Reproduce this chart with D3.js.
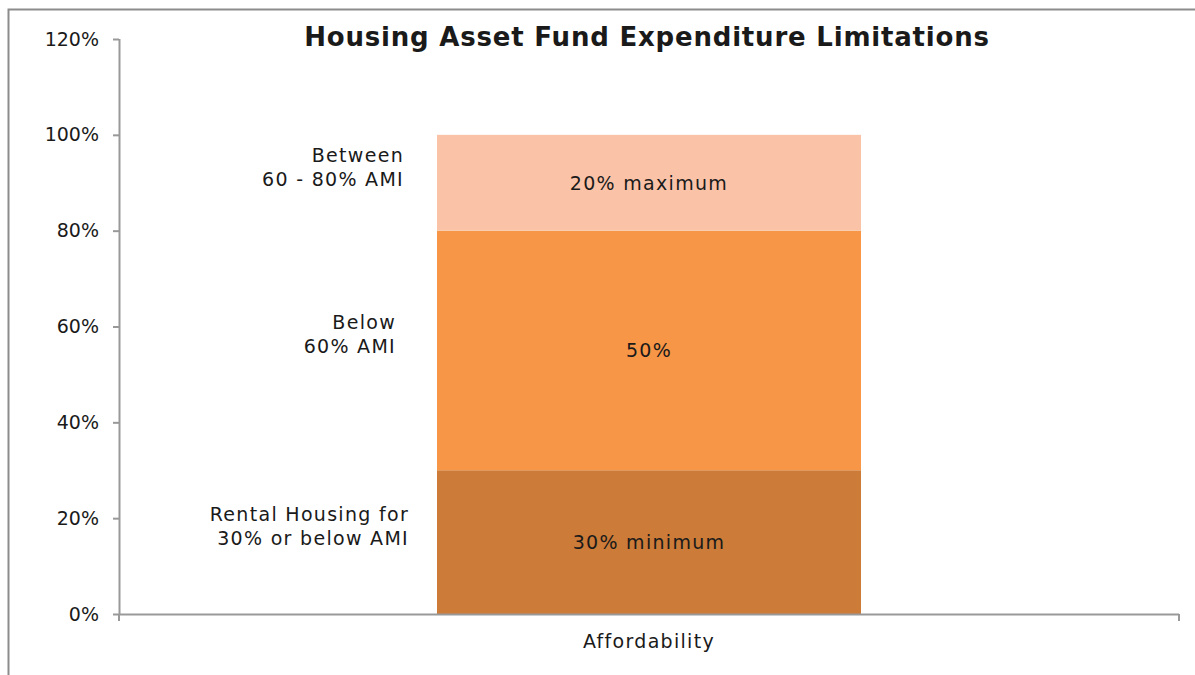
<!DOCTYPE html>
<html>
<head>
<meta charset="utf-8">
<script src="https://cdn.jsdelivr.net/npm/d3@7"></script>
<style>
  body { margin: 0; background: white; }
  text { font-family: "DejaVu Sans", sans-serif; fill: #1a1a1a; }
  .lbl { font-size: 19px; letter-spacing: 1.3px; }
</style>
</head>
<body>
<div id="chart"></div>
<script>
// data
const categories = ["Affordability"];
const segmentNames = ["Rental Housing for 30% or below AMI", "Below 60% AMI", "Between 60 - 80% AMI"];
const segmentValues = [30, 50, 20];
const segmentLabels = ["30% minimum", "50%", "20% maximum"];
const sideLabels = [["Rental Housing for", "30% or below AMI"], ["Below", "60% AMI"], ["Between", "60 - 80% AMI"]];
const yTicks = [0, 20, 40, 60, 80, 100, 120];
const colors = ["#CC7B38", "#F79646", "#FAC3A7"];

const wSvg = 1195;
const hSvg = 675;
const plotLeft = 119, plotRight = 1179, plotTop = 39, plotBottom = 614;

let svg = d3.select("#chart")
    .append("svg")
    .attr("width", wSvg)
    .attr("height", hSvg);

// outer chart frame (only left and top edges are in view)
svg.append("path")
    .attr("d", `M8.5,${hSvg} V9.5 H${wSvg}`)
    .attr("fill", "none")
    .attr("stroke", "#8c8c8c")
    .attr("stroke-width", 2);

let yScale = d3.scaleLinear([0, 120], [plotBottom, plotTop]);
let xScale = d3.scaleBand(categories, [plotLeft, plotRight]).paddingInner(0.6).paddingOuter(0.3);

// stack the segments
let stackData = [];
let acc = 0;
segmentValues.forEach((v, i) => {
    stackData.push({ name: segmentNames[i], y0: acc, y1: acc + v, label: segmentLabels[i], side: sideLabels[i], color: colors[i] });
    acc += v;
});

let bandX = xScale(categories[0]);
let bandW = xScale.bandwidth();

svg.append("g")
    .selectAll("rect")
    .data(stackData)
    .enter()
    .append("rect")
    .attr("x", bandX)
    .attr("width", bandW)
    .attr("y", d => yScale(d.y1))
    .attr("height", d => yScale(d.y0) - yScale(d.y1))
    .attr("fill", d => d.color);

// y axis
let yAxis = d3.axisLeft(yScale)
    .tickValues(yTicks)
    .tickFormat(d => d + "%")
    .tickSize(6)
    .tickPadding(14);
let gy = svg.append("g")
    .attr("transform", `translate(${plotLeft}, 0)`)
    .call(yAxis);
gy.selectAll("text").style("font-size", "19px").attr("fill", "#1a1a1a");
gy.select(".domain").attr("d", `M0.5,${plotTop} V${plotBottom}`);

// x axis with ticks at category edges
let gx = svg.append("g")
    .attr("transform", `translate(0, ${plotBottom})`);
gx.append("path")
    .attr("d", `M${plotLeft},0.5 H${plotRight}`)
    .attr("stroke", "#999")
    .attr("stroke-width", 2);
gx.selectAll("line")
    .data([plotLeft, plotRight])
    .enter()
    .append("line")
    .attr("x1", d => d).attr("x2", d => d)
    .attr("y1", 0).attr("y2", 7)
    .attr("stroke", "#999")
    .attr("stroke-width", 2);
gx.append("text")
    .attr("class", "lbl")
    .attr("x", bandX + bandW / 2)
    .attr("y", 34)
    .attr("text-anchor", "middle")
    .text(categories[0]);

svg.selectAll(".tick line").attr("stroke", "#999").attr("stroke-width", 2);
svg.selectAll(".domain").attr("stroke", "#999").attr("stroke-width", 2);

// labels inside segments
svg.append("g")
    .selectAll("text")
    .data(stackData)
    .enter()
    .append("text")
    .attr("class", "lbl")
    .attr("x", bandX + bandW / 2)
    .attr("y", d => yScale((d.y0 + d.y1) / 2) + 7)
    .attr("text-anchor", "middle")
    .text(d => d.label);

// side labels, right aligned next to bar
let sideRight = [409, 396, 404];
let side = svg.append("g")
    .selectAll("text")
    .data(stackData)
    .enter()
    .append("text")
    .attr("class", "lbl")
    .attr("text-anchor", "end")
    .attr("y", d => yScale((d.y0 + d.y1) / 2) - 21);
side.selectAll("tspan")
    .data((d, i) => d.side.map(s => ({ s: s, x: sideRight[i] })))
    .enter()
    .append("tspan")
    .attr("x", d => d.x)
    .attr("dy", (d, i) => i == 0 ? 0 : 24)
    .text(d => d.s);

svg.append("text")
    .attr("x", 647)
    .attr("y", 46)
    .attr("text-anchor", "middle")
    .style("font-size", "26px")
    .style("font-weight", "bold")
    .style("letter-spacing", "0.8px")
    .attr("fill", "#000")
    .text("Housing Asset Fund Expenditure Limitations");
</script>
</body>
</html>
